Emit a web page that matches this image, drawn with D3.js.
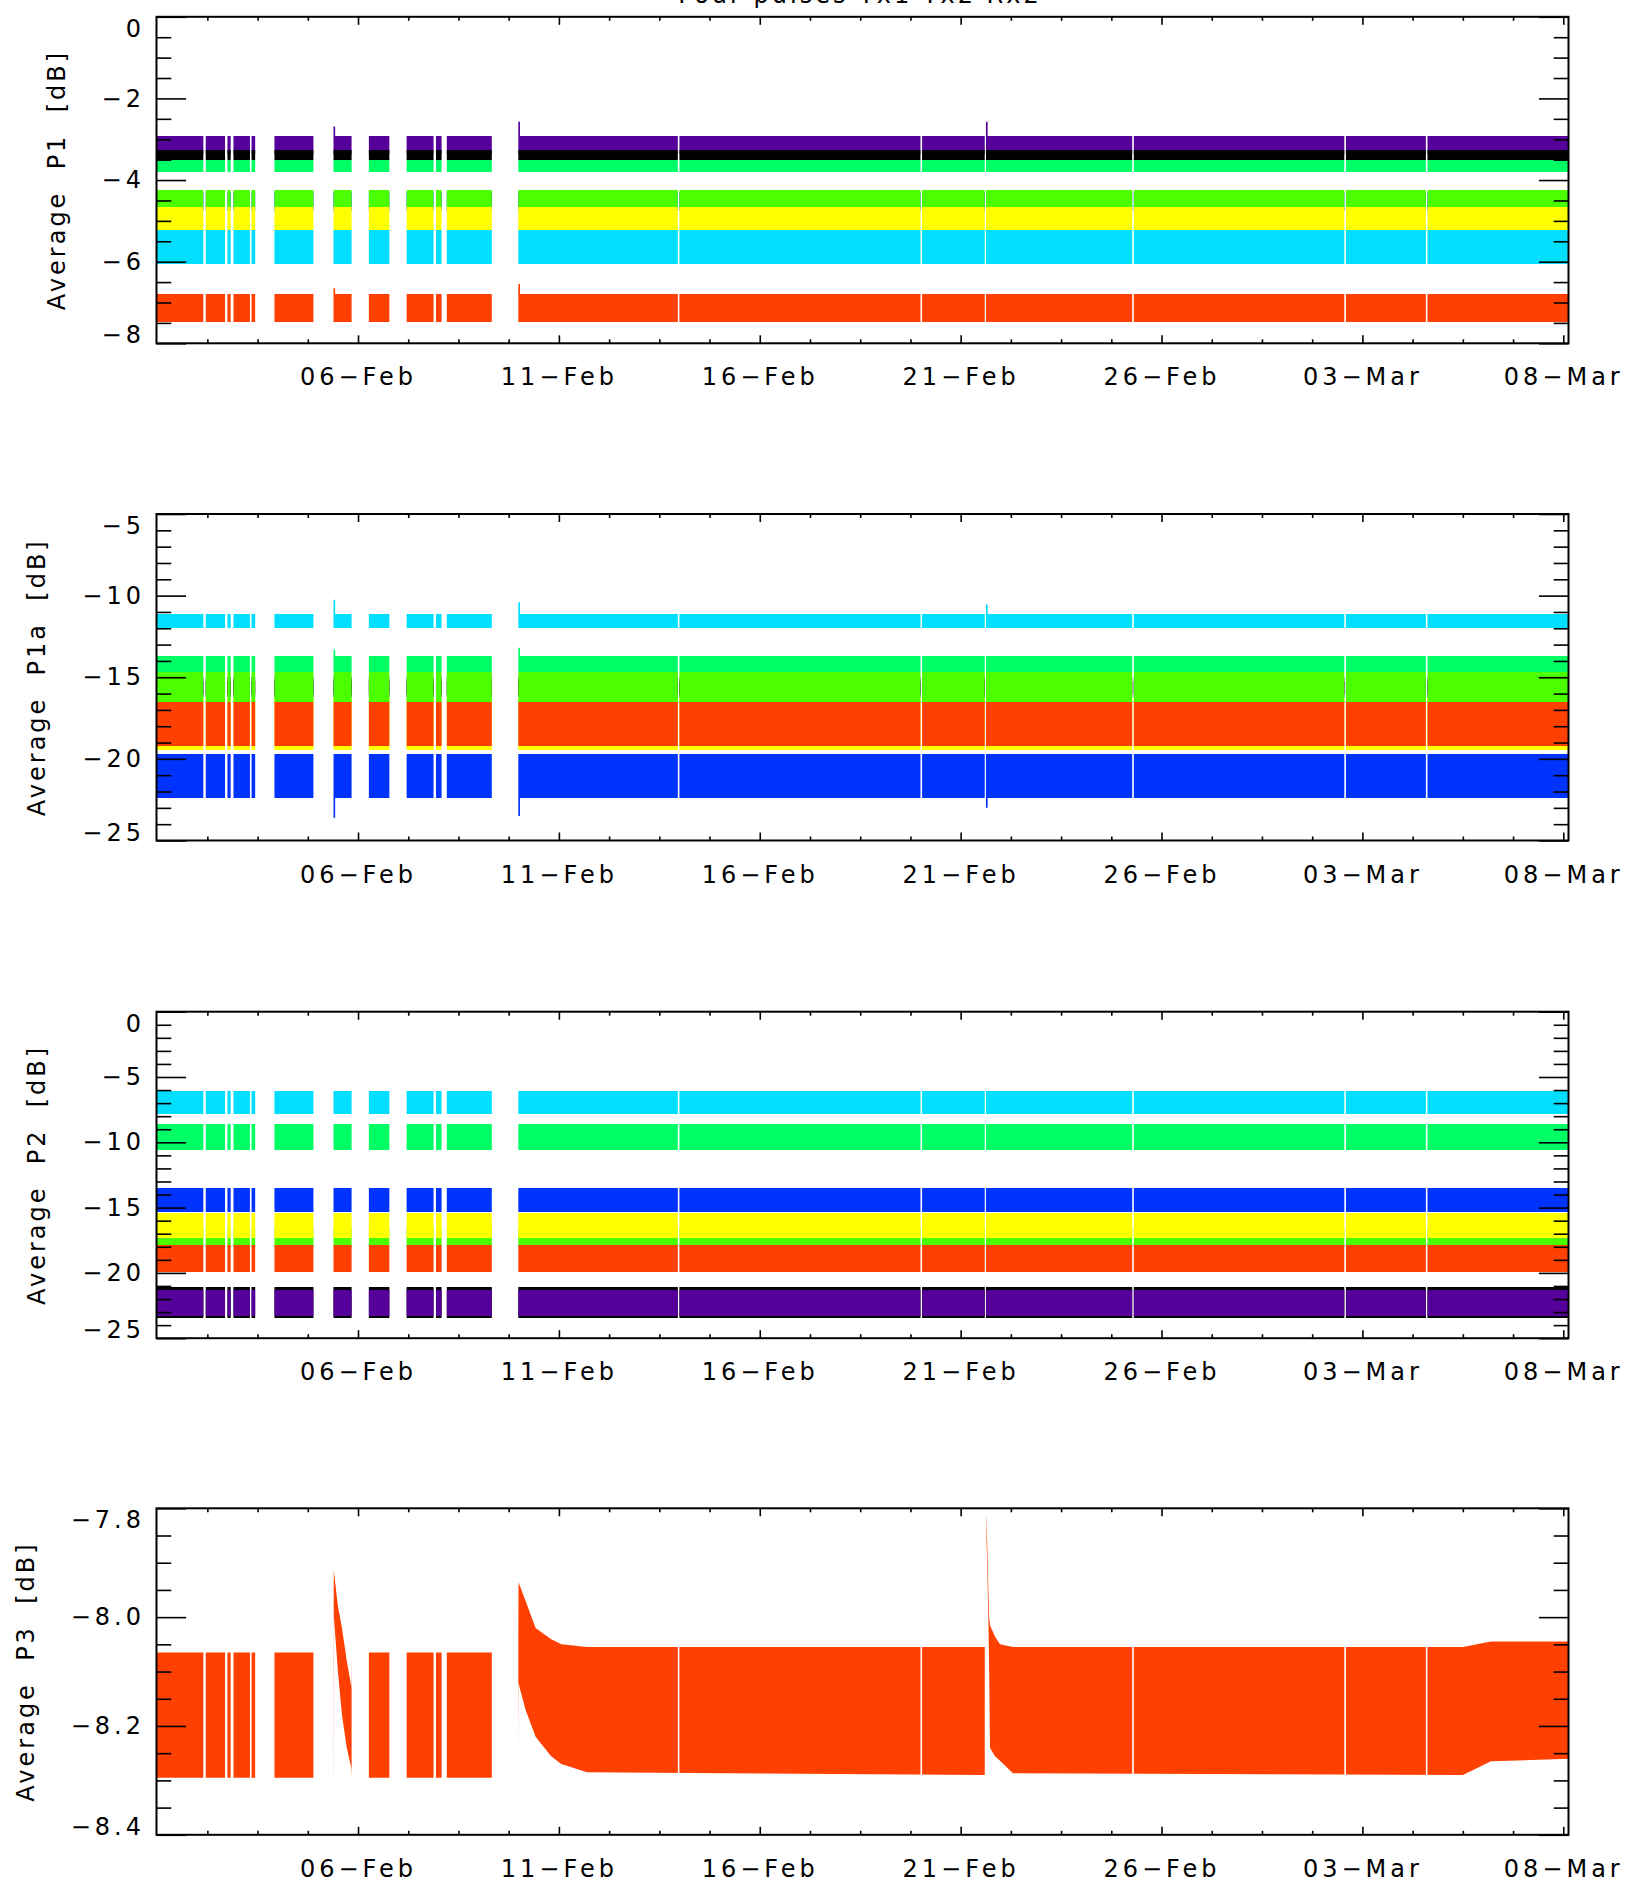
<!DOCTYPE html>
<html lang="en">
<head>
<meta charset="UTF-8" />
<title>Average pulse power, Feb-Mar</title>
<style>
  html, body { margin:0; padding:0; background:#fff; }
  svg { display:block; font-family:"DejaVu Sans", sans-serif; }
  .lbl { font-family:"DejaVu Sans", sans-serif; font-size:24px; letter-spacing:3px; fill:#000; }
  .tick .lbl { letter-spacing:4px; }
  .band { shape-rendering:crispEdges; }
</style>
</head>
<body>
<svg id="chart" width="1627" height="1887"></svg>
<script src="https://d3js.org/d3.v7.min.js"></script>
<script>
// ---- data (times are days since 01-Feb 00:00) ----
const xStartDay = -0.016, xEndDay = 35.13;

// stretches where data exist (shared by all four channels)
const segStart = [-0.016, 1.21, 1.75, 1.90, 2.35, 2.92, 4.39, 5.27, 6.21, 6.94, 7.21, 8.99, 13.00, 19.04, 20.63, 24.31, 29.59, 31.62];
const segEnd   = [ 1.15,  1.69, 1.83, 2.31, 2.44, 3.89, 4.84, 5.78, 6.88, 7.08, 8.33, 12.96, 19.00, 20.60, 24.27, 29.55, 31.58, 35.13];

const xTickDates  = ['2010-02-06','2010-02-11','2010-02-16','2010-02-21','2010-02-26','2010-03-03','2010-03-08'];
const xTickLabels = ['06\u2212Feb','11\u2212Feb','16\u2212Feb','21\u2212Feb','26\u2212Feb','03\u2212Mar','08\u2212Mar'];

const colors = {
  purple:'#55009b', black:'#000000', green:'#00ff64', lime:'#4bff00',
  blue:'#0033ff', yellow:'#ffff00', cyan:'#00dfff', orange:'#ff4000'
};

// P1 bands (draw order), lower / upper edge in dB
const p1Series = ['blue','purple','green','black','lime','yellow','cyan','orange'];
const p1Lo     = [-4.75, -3.35, -3.80, -3.50, -4.70, -5.22, -6.05, -7.48];
const p1Hi     = [-4.30, -2.93, -3.50, -3.27, -4.25, -4.65, -5.23, -6.80];

// P1a bands
const p1aSeries = ['purple','black','yellow','blue','cyan','green','lime','orange'];
const p1aLo     = [-16.0, -16.2, -19.45, -22.4, -12.0, -14.65, -16.6, -19.2];
const p1aHi     = [-15.0, -15.2, -16.3, -19.7, -11.15, -13.7, -14.65, -16.5];

// P2 bands
const p2Series = ['cyan','green','blue','lime','yellow','orange','black','purple'];
const p2Lo     = [-7.85, -10.6, -15.3, -18.0, -17.3, -19.9, -23.45, -23.3];
const p2Hi     = [-6.1,  -8.6,  -13.5, -16.6, -15.4, -17.9, -21.1, -21.3];

// P3 envelope (single channel)
const p3Day    = [-0.02, 4.38, 4.39, 4.50, 4.60, 4.72, 4.84, 4.85, 8.98, 8.99, 9.17, 9.42, 9.80, 10.06, 10.70, 20.61, 20.63, 20.66, 20.69, 20.71, 20.73, 20.85, 20.98, 21.30, 32.50, 33.20, 35.20];
const p3Top    = [-8.065, -8.065, -7.91, -7.98, -8.02, -8.08, -8.13, -8.065, -8.065, -7.935, -7.97, -8.02, -8.04, -8.05, -8.055, -8.055, -7.81, -7.86, -7.95, -8.00, -8.015, -8.035, -8.05, -8.055, -8.055, -8.045, -8.045];
const p3Bottom = [-8.295, -8.295, -7.99, -8.10, -8.18, -8.24, -8.28, -8.295, -8.295, -8.12, -8.17, -8.22, -8.255, -8.27, -8.285, -8.29, -7.82, -7.90, -8.00, -8.10, -8.24, -8.255, -8.264, -8.287, -8.29, -8.265, -8.26];

// short excursions at restarts: panel index, channel, day, value
const spikePanel  = [0, 0, 0, 0, 0, 1, 1, 1, 1, 1, 1, 1, 1];
const spikeSeries = ['purple','purple','purple','orange','orange','cyan','cyan','cyan','green','green','blue','blue','blue'];
const spikeDay    = [4.40, 9.00, 20.64, 4.40, 9.00, 4.40, 9.00, 20.64, 4.40, 9.00, 4.40, 9.00, 20.64];
const spikeValue  = [-2.69, -2.57, -2.57, -6.65, -6.55, -10.25, -10.4, -10.55, -13.3, -13.2, -23.6, -23.5, -23.0];

// axes per panel
const yDomains  = [[-8, 0], [-25, -5], [-25, 0], [-8.4, -7.8]];
const yMajors   = [[0, -2, -4, -6, -8], [-5, -10, -15, -20, -25], [0, -5, -10, -15, -20, -25], [-7.8, -8.0, -8.2, -8.4]];
const yMajorLabels = [
  ['0', '\u22122', '\u22124', '\u22126', '\u22128'],
  ['\u22125', '\u221210', '\u221215', '\u221220', '\u221225'],
  ['0', '\u22125', '\u221210', '\u221215', '\u221220', '\u221225'],
  ['\u22127.8', '\u22128.0', '\u22128.2', '\u22128.4']
];
const yMinorStep = [0.5, 1, 1, 0.05];
const yTitles = ['Average  P1  [dB]', 'Average  P1a  [dB]', 'Average  P2  [dB]', 'Average  P3  [dB]'];
const chartTitle = 'Four pulses Tx1 Tx2 Rx2';

// ---- layout ----
const plotLeft = 156.5, plotW = 1412, plotH = 326.5;
const panelTop = [16.8, 514, 1011.7, 1508.3];
const yTickLen = 29.6, xTickLen = 8;

const t0 = Date.UTC(2010, 1, 1);
const day2date = d => new Date(t0 + d * 864e5);
const parse = d3.utcParse('%Y-%m-%d');

const svg = d3.select('#chart');
const defs = svg.append('defs');

const x = d3.scaleUtc().domain([day2date(xStartDay), day2date(xEndDay)]).range([0, plotW]);
const majorDates = xTickDates.map(parse);
const minorDates = d3.range(1.25, xEndDay, 1.25).map(day2date)
  .filter(d => !majorDates.some(m => Math.abs(m - d) < 36e5));

// clip = where data exist, in panel coordinates
const clip = defs.append('clipPath').attr('id', 'segclip');
segStart.forEach((s, i) => {
  clip.append('rect')
    .attr('x', x(day2date(s)))
    .attr('y', 0)
    .attr('width', x(day2date(segEnd[i])) - x(day2date(s)))
    .attr('height', plotH);
});

// title sits mostly above the page edge, as in the original plot
svg.append('text')
  .attr('class', 'lbl')
  .attr('x', 860).attr('y', 3)
  .attr('text-anchor', 'middle')
  .text(chartTitle);

const bandSets = [
  { series: p1Series, lo: p1Lo, hi: p1Hi },
  { series: p1aSeries, lo: p1aLo, hi: p1aHi },
  { series: p2Series, lo: p2Lo, hi: p2Hi },
  null
];

panelTop.forEach((top, p) => {
  const g = svg.append('g').attr('transform', `translate(${plotLeft},${top})`);
  const y = d3.scaleLinear().domain(yDomains[p]).range([plotH, 0]);
  const data = g.append('g').attr('clip-path', 'url(#segclip)');

  const set = bandSets[p];
  if (set) {
    set.series.forEach((name, i) => {
      data.append('rect')
        .attr('class', 'band')
        .attr('x', 0).attr('width', plotW)
        .attr('y', y(set.hi[i]))
        .attr('height', y(set.lo[i]) - y(set.hi[i]))
        .attr('fill', colors[name]);
    });
    spikeDay.forEach((d, i) => {
      if (spikePanel[i] !== p) return;
      const k = set.series.indexOf(spikeSeries[i]);
      const edge = spikeValue[i] > set.hi[k] ? set.hi[k] : set.lo[k];
      data.append('line')
        .attr('x1', x(day2date(d))).attr('x2', x(day2date(d)))
        .attr('y1', y(edge)).attr('y2', y(spikeValue[i]))
        .attr('stroke', colors[spikeSeries[i]])
        .attr('stroke-width', 2.5);
    });
  } else {
    const pts = p3Day.map((d, i) => ({ d, top: p3Top[i], bot: p3Bottom[i] }));
    const area = d3.area()
      .x(v => x(day2date(v.d)))
      .y0(v => y(v.bot))
      .y1(v => y(v.top));
    data.append('path').datum(pts).attr('d', area).attr('fill', colors.orange);
  }

  // ticks
  const styleAxis = sel => {
    sel.attr('font-family', null).attr('font-size', null);
    sel.select('.domain').remove();
    sel.selectAll('line').attr('stroke', '#000').attr('stroke-width', 1.6);
    sel.selectAll('text').attr('class', 'lbl');
  };

  g.append('g').attr('transform', `translate(0,${plotH})`)
    .call(d3.axisBottom(x).tickValues(majorDates).tickSize(-xTickLen).tickPadding(25)
      .tickFormat((d, i) => xTickLabels[i]))
    .call(styleAxis);
  g.append('g').attr('transform', `translate(0,${plotH})`)
    .call(d3.axisBottom(x).tickValues(minorDates).tickSize(-xTickLen / 2).tickFormat(''))
    .call(styleAxis);
  g.append('g')
    .call(d3.axisTop(x).tickValues(majorDates).tickSize(-xTickLen).tickFormat(''))
    .call(styleAxis);
  g.append('g')
    .call(d3.axisTop(x).tickValues(minorDates).tickSize(-xTickLen / 2).tickFormat(''))
    .call(styleAxis);

  const [yMin, yMax] = yDomains[p];
  const minors = d3.range(0, Math.round((yMax - yMin) / yMinorStep[p]) + 1)
    .map(k => yMin + k * yMinorStep[p])
    .filter(v => !yMajors[p].some(m => Math.abs(m - v) < 1e-6));

  const yl = g.append('g')
    .call(d3.axisLeft(y).tickValues(yMajors[p]).tickSize(-yTickLen).tickPadding(11.5)
      .tickFormat((d, i) => yMajorLabels[p][i]))
    .call(styleAxis);
  yl.selectAll('text')
    .attr('y', d => Math.abs(d - yMax) < 1e-6 ? 12 : Math.abs(d - yMin) < 1e-6 ? -8 : 0);
  g.append('g')
    .call(d3.axisLeft(y).tickValues(minors).tickSize(-yTickLen / 2).tickFormat(''))
    .call(styleAxis);
  g.append('g').attr('transform', `translate(${plotW},0)`)
    .call(d3.axisRight(y).tickValues(yMajors[p]).tickSize(-yTickLen).tickFormat(''))
    .call(styleAxis);
  g.append('g').attr('transform', `translate(${plotW},0)`)
    .call(d3.axisRight(y).tickValues(minors).tickSize(-yTickLen / 2).tickFormat(''))
    .call(styleAxis);

  // frame
  g.append('rect')
    .attr('width', plotW).attr('height', plotH)
    .attr('fill', 'none').attr('stroke', '#000').attr('stroke-width', 2);

  // y title, left of the widest tick label
  const labelLeft = d3.min(yl.selectAll('text').nodes(), n => n.getBBox().x) - 11.5;
  g.append('text')
    .attr('class', 'lbl')
    .attr('transform', `translate(${labelLeft - 34},${plotH / 2}) rotate(-90)`)
    .attr('text-anchor', 'middle')
    .attr('dy', '0.35em')
    .style('white-space', 'pre')
    .text(yTitles[p]);
});
</script>
</body>
</html>
